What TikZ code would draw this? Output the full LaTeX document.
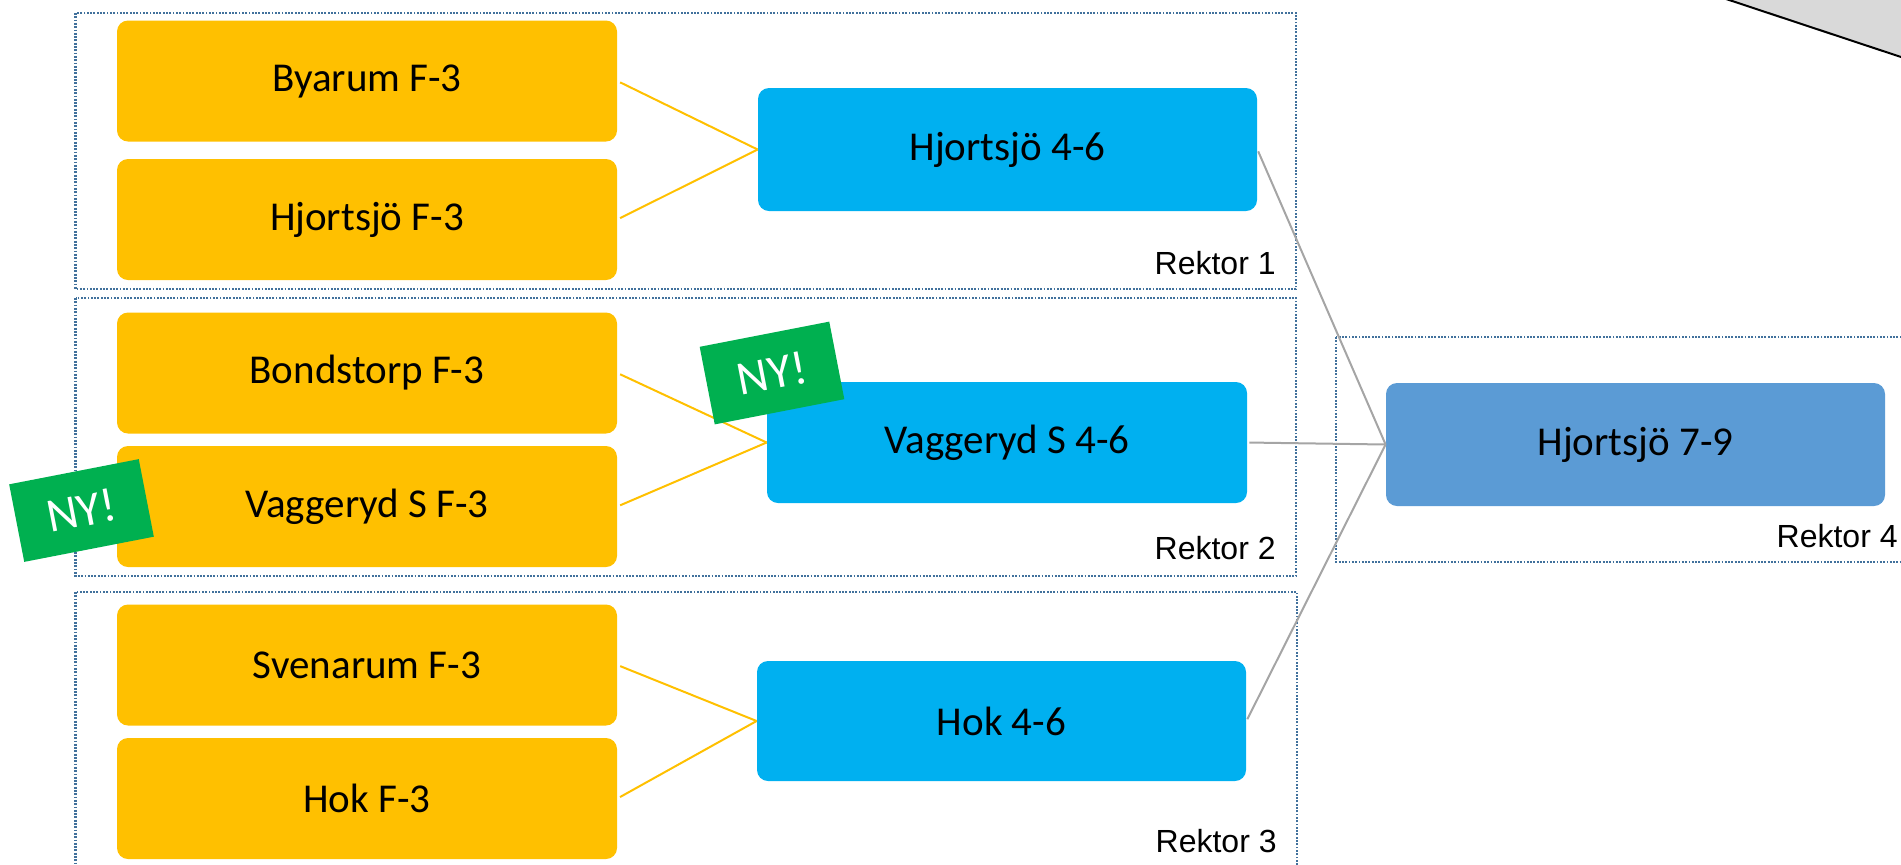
\documentclass[tikz,border=0pt]{standalone}
\usepackage{fontspec}
\setmainfont{Carlito}
\newfontfamily\arialfont{Liberation Sans}
\usepackage{tikz}
\usetikzlibrary{positioning}
\usepackage{xcolor}
\definecolor{skolgul}{RGB}{255, 192, 0}
\definecolor{skolbla}{RGB}{0, 176, 240}
\definecolor{hogbla}{RGB}{91, 155, 213}
\definecolor{nygron}{RGB}{0, 176, 80}
\definecolor{ramblue}{RGB}{65, 113, 156}
\definecolor{lankgra}{RGB}{165, 165, 165}
\definecolor{formgra}{RGB}{217, 217, 217}

\begin{document}
\begin{tikzpicture}[
    x=0.5pt, y=-0.5pt,
    box/.style={rounded corners=5.5pt, inner sep=0pt, minimum height=60.5pt,
                align=center, font=\fontsize{20.5}{24}\selectfont},
    lag/.style={box, fill=skolgul, minimum width=250pt},
    mellan/.style={box, fill=skolbla},
    hog/.style={box, fill=hogbla},
    grp/.style={draw=ramblue, line width=1.2pt, dash pattern=on 0.9pt off 0.75pt},
    rektor/.style={anchor=base east, inner sep=0pt,
                   font=\arialfont\fontsize{16}{18}\selectfont},
    tag/.style={fill=nygron, text=white, inner sep=0pt, rotate=11,
                minimum width=66pt, minimum height=39.5pt,
                font=\fontsize{24}{28}\selectfont},
    gul/.style={skolgul, line width=1pt, shorten <=1.5pt},
    gra/.style={lankgra, line width=1pt, shorten <=1pt},
  ]
    \useasboundingbox (0,0) rectangle (1901,864);

    % Shape in the corner
    \fill[formgra] (1699,-10) -- (1920,63.3) -- (1920,-10) -- cycle;
    \draw[line width=1pt] (1699,-10) -- (1920,63.3);

    % Rektor groups
    \draw[grp] (75.5,13) rectangle (1296,289);
    \draw[grp] (75.5,298) rectangle (1296,576);
    \draw[grp] (75.5,592) rectangle (1297,880);
    \draw[grp] (1336,337) rectangle (1930,562);
    \node[rektor] (rektor1) at (1276,274) {Rektor 1};
    \node[rektor] (rektor2) at (1276,559) {Rektor 2};
    \node[rektor] (rektor3) at (1277,852) {Rektor 3};
    \node[rektor] (rektor4) at (1898,547) {Rektor 4};

    % F-3 schools
    \node[lag] (byarum) at (367,81) {Byarum F-3};
    \node[lag] (hjortsjoF) at (367,219.5) {Hjortsjö F-3};
    \node[lag] (bondstorp) at (367,373) {Bondstorp F-3};
    \node[lag] (vaggerydF) at (367,506.5) {Vaggeryd S F-3};
    \node[lag] (svenarum) at (367,665) {Svenarum F-3};
    \node[lag] (hokF) at (367,798.5) {Hok F-3};

    % 4-6 schools
    \node[mellan, minimum width=249.5pt, minimum height=61.5pt] (hjortsjoM) at (1007.5,149.5) {Hjortsjö 4-6};
    \node[mellan, minimum width=240pt] (vaggerydM) at (1007,442.5) {Vaggeryd S 4-6};
    \node[mellan, minimum width=244.5pt, minimum height=60pt] (hokM) at (1001.5,721) {Hok 4-6};

    % 7-9 school
    \node[hog, minimum width=249.5pt, minimum height=61.5pt] (hjortsjoH) at (1635.5,444.5) {Hjortsjö 7-9};

    % Lines
    \draw[gul] (byarum.east) -- (hjortsjoM.west);
    \draw[gul] (hjortsjoF.east) -- (hjortsjoM.west);
    \draw[gul] (bondstorp.east) -- (vaggerydM.west);
    \draw[gul] (vaggerydF.east) -- (vaggerydM.west);
    \draw[gul] (svenarum.east) -- (hokM.west);
    \draw[gul] (hokF.east) -- (hokM.west);
    \draw[gra] (hjortsjoM.east) -- (hjortsjoH.west);
    \draw[gra] (vaggerydM.east) -- (hjortsjoH.west);
    \draw[gra] (hokM.east) -- (hjortsjoH.west);

    % New
    \node[tag] (ny1) at (81.5,510.5) {NY!};
    \node[tag] (ny2) at (772,373) {NY!};
  \end{tikzpicture}
\end{document}
